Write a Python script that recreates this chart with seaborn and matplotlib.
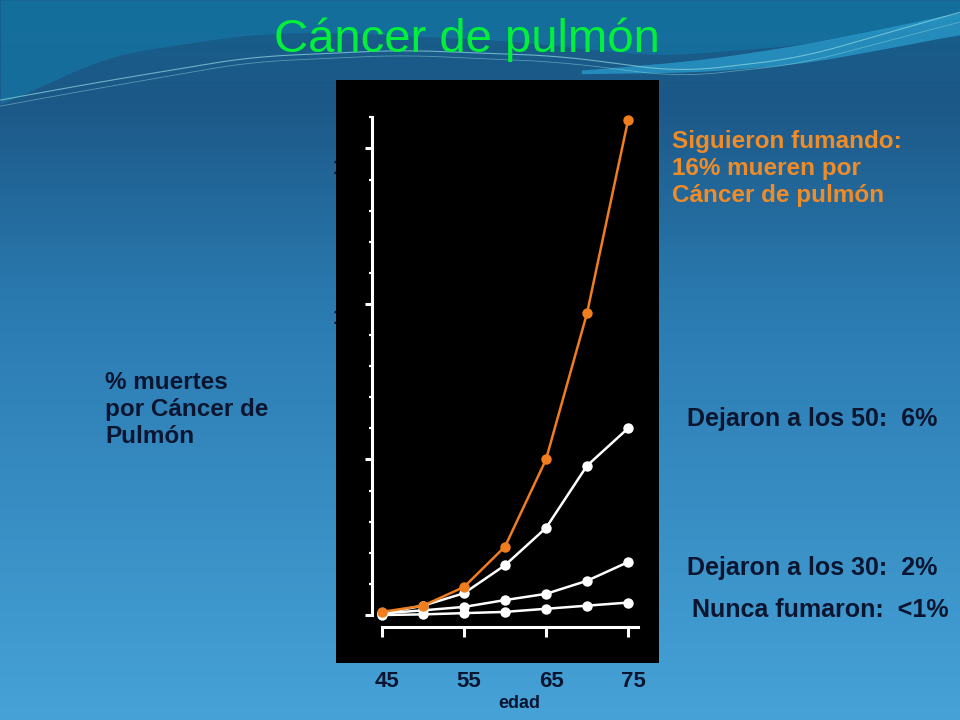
import numpy as np
import matplotlib
matplotlib.use('Agg')
import matplotlib.pyplot as plt
import matplotlib.transforms as mtransforms
import seaborn as sns

# DATA: % deaths from lung cancer by age
edad = [45, 50, 55, 60, 65, 70, 75]
siguieron = [0.1, 0.3, 0.9, 2.2, 5.0, 9.7, 15.9]   # kept smoking
dejaron50 = [0.05, 0.3, 0.7, 1.6, 2.8, 4.8, 6.0]    # stopped at 50
dejaron30 = [0.05, 0.15, 0.26, 0.48, 0.68, 1.1, 1.7]  # stopped at 30
nunca = [0.0, 0.02, 0.06, 0.1, 0.2, 0.3, 0.4]        # never smoked
xtick_vals = [45, 55, 65, 75]
ytick_major = [0, 5, 10, 15]

sns.set_style('white')
plt.rcParams['font.family'] = ['Liberation Sans', 'DejaVu Sans']

naranja = '#f07d1e'
texto_osc = '#0b1530'

fig = plt.figure(figsize=(9.6, 7.2), dpi=100)

# BACKGROUND (slide gradient + swoosh at top)
bg = fig.add_axes([0, 0, 1, 1], zorder=-2)
bg.set_xlim(0, 960)
bg.set_ylim(720, 0)
bg.axis('off')
yy = np.linspace(0, 720, 300)
stops_y = [0, 100, 300, 720]
stops_c = np.array([[22, 95, 140], [28, 88, 135], [42, 122, 176], [70, 162, 215]]) / 255.0
col = np.stack([np.interp(yy, stops_y, stops_c[:, k]) for k in range(3)], axis=1)
grad = np.repeat(col[:, None, :], 2, axis=1)
bg.imshow(grad, extent=[0, 960, 720, 0], aspect='auto', interpolation='bicubic')

def suave(xp, yp, n=41):
    # piecewise line smoothed with a moving average so the swoosh looks curved
    xs = np.linspace(-200, 1160, 680)
    ys = np.interp(xs, xp, yp)
    k = np.ones(n) / n
    ys = np.convolve(ys, k, mode='same')
    keep = (xs >= 0) & (xs <= 960)
    return xs[keep], ys[keep]

xs, top_curve = suave([-200, 0, 110, 250, 330, 500, 660, 800, 960, 1160],
                      [180, 105, 55, 34, 32, 40, 56, 45, 18, -20])
bg.fill_between(xs, 0, top_curve, color='#1476a4', alpha=0.7, lw=0)
xb, band_up = suave([-200, 560, 700, 800, 900, 960, 1160], [80, 72, 60, 45, 25, 12, -20])
xb, band_lo = suave([-200, 560, 700, 800, 900, 960, 1160], [80, 74, 72, 64, 46, 34, 10])
mask = xb >= 580
bg.fill_between(xb[mask], band_up[mask], band_lo[mask], color='#2a9ccc', alpha=0.75, lw=0)
xl, line1 = suave([-200, 0, 100, 250, 400, 560, 680, 800, 960, 1160],
                  [140, 100, 82, 57, 50, 56, 72, 58, 12, -40])
xl, line2 = suave([-200, 0, 100, 250, 400, 560, 680, 800, 960, 1160],
                  [146, 106, 88, 62, 55, 62, 77, 64, 22, -30])
bg.plot(xl, line1, color='#8fd8e0', lw=0.8, alpha=0.7)
bg.plot(xl, line2, color='#8fd8e0', lw=0.6, alpha=0.5)

# partly hidden y labels peeking out left of the black box
fig.text(333 / 960, 1 - 168 / 720, '15', ha='left', va='center', fontsize=16,
         weight='bold', color=texto_osc, zorder=-1)
fig.text(333 / 960, 1 - 318 / 720, '10', ha='left', va='center', fontsize=16,
         weight='bold', color=texto_osc, zorder=-1)

# MAIN CHART
ax = fig.add_axes([336 / 960, 57 / 720, 323 / 960, 583 / 720], zorder=0)
ax.set_facecolor('black')

for serie, c in [(nunca, 'white'), (dejaron30, 'white'), (dejaron50, 'white'), (siguieron, naranja)]:
    sns.lineplot(x=edad, y=serie, ax=ax, color=c, marker='o', markersize=7.5,
                 markeredgewidth=0, linewidth=1.8)

ax.set_xlim(39.39, 78.78)
ax.set_ylim(-1.543, 17.2)

for s in ['top', 'right']:
    ax.spines[s].set_visible(False)
ax.spines['left'].set_position(('data', 43.78))
ax.spines['left'].set_bounds(0, 16)
ax.spines['bottom'].set_position(('data', -0.386))
ax.spines['bottom'].set_bounds(45, 76.2)
for s in ['left', 'bottom']:
    ax.spines[s].set_color('white')
    ax.spines[s].set_linewidth(2.2)

ax.set_yticks(ytick_major)
ax.set_yticks(range(0, 17), minor=True)
ax.set_yticklabels([])
ax.tick_params(axis='y', which='major', length=5, width=2.2, color='white', direction='out', left=True)
ax.tick_params(axis='y', which='minor', length=2.5, width=1.6, color='white', direction='out', left=True)

ax.set_xticks(xtick_vals)
ax.set_xticklabels([str(v) for v in xtick_vals])
ax.tick_params(axis='x', which='major', length=7, width=2.2, color='white', direction='out',
               bottom=True, pad=25, labelsize=16, labelcolor=texto_osc)
for lab in ax.get_xticklabels():
    lab.set_fontweight('bold')
    lab.set_transform(lab.get_transform() + mtransforms.ScaledTranslation(5 / 100, 0, fig.dpi_scale_trans))

# TEXTS (multi-line texts are placed by the baseline of their last line)
fig.text(467 / 960, 1 - 52 / 720, 'Cáncer de pulmón', ha='center', va='baseline',
         fontsize=34, color='#00f03c')
fig.text(519 / 960, 1 - 708 / 720, 'edad', ha='center', va='baseline',
         fontsize=13, weight='bold', color=texto_osc)
fig.text(672 / 960, 1 - 202 / 720, 'Siguieron fumando:\n16% mueren por\nCáncer de pulmón',
         ha='left', va='baseline', fontsize=17.5, weight='bold', color='#f08c28', linespacing=1.22)
fig.text(105 / 960, 1 - 443 / 720, '% muertes\npor Cáncer de\nPulmón',
         ha='left', va='baseline', fontsize=17.5, weight='bold', color=texto_osc, linespacing=1.22)
fig.text(687 / 960, 1 - 426 / 720, 'Dejaron a los 50:  6%', ha='left', va='baseline',
         fontsize=18, weight='bold', color=texto_osc)
fig.text(687 / 960, 1 - 575 / 720, 'Dejaron a los 30:  2%', ha='left', va='baseline',
         fontsize=18, weight='bold', color=texto_osc)
fig.text(692 / 960, 1 - 617 / 720, 'Nunca fumaron:  <1%', ha='left', va='baseline',
         fontsize=18, weight='bold', color=texto_osc)

fig.savefig('out.png', dpi=100)
